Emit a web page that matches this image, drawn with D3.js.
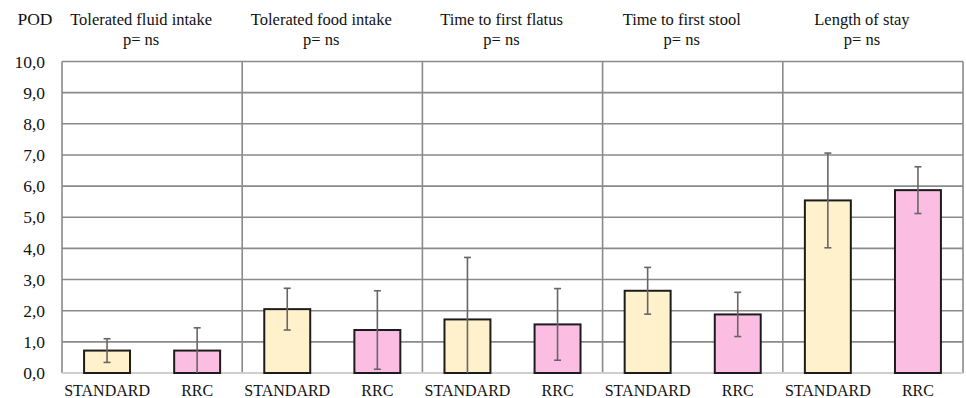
<!DOCTYPE html>
<html>
<head>
<meta charset="utf-8">
<script src="https://cdn.jsdelivr.net/npm/d3@7"></script>
<style>
  body { margin: 0; background: #fff; }
  svg text { font-family: "Liberation Serif", "DejaVu Serif", Times, serif; }
</style>
</head>
<body>
<svg class="chart"></svg>
<script>
// groups (outcomes) and arms
const outcomes = ['Tolerated fluid intake', 'Tolerated food intake', 'Time to first flatus', 'Time to first stool', 'Length of stay'];
const pLabels = ['p= ns', 'p= ns', 'p= ns', 'p= ns', 'p= ns'];
const arms = ['STANDARD', 'RRC'];

// mean POD and error (+/-) per outcome
const standardMean = [0.72, 2.05, 1.72, 2.64, 5.54];
const standardErr = [0.38, 0.67, 1.99, 0.75, 1.52];
const rrcMean = [0.72, 1.38, 1.56, 1.88, 5.87];
const rrcErr = [0.73, 1.26, 1.15, 0.71, 0.75];

const yTicks = [0, 1, 2, 3, 4, 5, 6, 7, 8, 9, 10];

const app = (function () {
  'use strict';

  const FONT = '"Liberation Serif", "DejaVu Serif", Times, serif';

  function init () {
    const W = 966;
    const H = 398;
    const margin = { top: 61.5, right: 3, bottom: 25, left: 62 };
    const w = W - margin.left - margin.right;
    const h = H - margin.top - margin.bottom;

    const svg = d3.select('.chart')
      .attr('width', W)
      .attr('height', H)
      .attr('font-family', FONT);

    const g = svg.append('g')
      .attr('transform', 'translate(' + margin.left + ',' + margin.top + ')');

    const x0 = d3.scaleBand()
      .domain(outcomes)
      .range([0, w]);

    const x1 = d3.scaleBand()
      .domain(arms)
      .range([0, x0.bandwidth()])
      .paddingInner(0.49)
      .paddingOuter(0.245);

    const y = d3.scaleLinear()
      .domain([0, 10])
      .range([h, 0]);

    const fmt = d3.formatLocale({ decimal: ',', thousands: '.', grouping: [3], currency: ['', ''] }).format('.1f');
    const color = { STANDARD: '#fff1cb', RRC: '#fcbde2' };

    const rows = outcomes.map(function (o, i) {
      return {
        outcome: o,
        values: [
          { arm: 'STANDARD', mean: standardMean[i], err: standardErr[i] },
          { arm: 'RRC', mean: rrcMean[i], err: rrcErr[i] }
        ]
      };
    });

    // horizontal grid
    g.append('g')
      .selectAll('line')
      .data(yTicks.filter(function (d) { return d > 0; }))
      .enter().append('line')
      .attr('x1', 0)
      .attr('x2', w)
      .attr('y1', function (d) { return y(d); })
      .attr('y2', function (d) { return y(d); })
      .attr('stroke', '#8a8a8a')
      .attr('stroke-width', 1.6);

    // vertical dividers (left edge, between groups, right edge)
    const dividers = outcomes.map(function (o) { return x0(o); }).concat([w]);
    g.append('g')
      .selectAll('line')
      .data(dividers)
      .enter().append('line')
      .attr('x1', function (d) { return d; })
      .attr('x2', function (d) { return d; })
      .attr('y1', y(10))
      .attr('y2', y(0))
      .attr('stroke', '#8a8a8a')
      .attr('stroke-width', 1.6);

    // bottom axis line
    g.append('line')
      .attr('x1', 0)
      .attr('x2', w)
      .attr('y1', y(0))
      .attr('y2', y(0))
      .attr('stroke', '#cfcfcf')
      .attr('stroke-width', 2);

    // y axis labels
    const yAxis = g.append('g')
      .call(d3.axisLeft(y).tickValues(yTicks).tickFormat(fmt).tickSize(0).tickPadding(17));
    yAxis.attr('font-family', FONT);
    yAxis.select('.domain').remove();
    yAxis.selectAll('text')
      .attr('font-size', 17.5)
      .attr('fill', '#111');

    const groups = g.selectAll('.grp')
      .data(rows)
      .enter().append('g')
      .attr('class', 'grp')
      .attr('transform', function (d) { return 'translate(' + x0(d.outcome) + ',0)'; });

    groups.selectAll('rect')
      .data(function (d) { return d.values; })
      .enter().append('rect')
      .attr('x', function (d) { return x1(d.arm); })
      .attr('width', x1.bandwidth())
      .attr('y', function (d) { return y(d.mean); })
      .attr('height', function (d) { return y(0) - y(d.mean); })
      .attr('fill', function (d) { return color[d.arm]; })
      .attr('stroke', '#1c1c1c')
      .attr('stroke-width', 2);

    // error bars
    const eb = groups.selectAll('.err')
      .data(function (d) { return d.values; })
      .enter().append('g')
      .attr('class', 'err')
      .attr('stroke', '#666')
      .attr('stroke-width', 1.6);

    const cx = function (d) { return x1(d.arm) + x1.bandwidth() / 2; };
    const lo = function (d) { return Math.max(0, d.mean - d.err); };
    const hi = function (d) { return d.mean + d.err; };

    eb.append('line')
      .attr('x1', cx).attr('x2', cx)
      .attr('y1', function (d) { return y(hi(d)); })
      .attr('y2', function (d) { return y(lo(d)); });
    eb.append('line')
      .attr('x1', function (d) { return cx(d) - 3.5; })
      .attr('x2', function (d) { return cx(d) + 3.5; })
      .attr('y1', function (d) { return y(hi(d)); })
      .attr('y2', function (d) { return y(hi(d)); });
    eb.filter(function (d) { return d.mean - d.err > 0.05; })
      .append('line')
      .attr('x1', function (d) { return cx(d) - 3.5; })
      .attr('x2', function (d) { return cx(d) + 3.5; })
      .attr('y1', function (d) { return y(lo(d)); })
      .attr('y2', function (d) { return y(lo(d)); });

    // arm labels under bars
    groups.selectAll('.arm')
      .data(function (d) { return d.values; })
      .enter().append('text')
      .attr('class', 'arm')
      .attr('x', cx)
      .attr('y', h + 23)
      .attr('text-anchor', 'middle')
      .attr('font-size', 16)
      .attr('fill', '#111')
      .text(function (d) { return d.arm; });

    // group titles
    groups.append('text')
      .attr('x', x0.bandwidth() / 2 - 11)
      .attr('y', 25 - margin.top)
      .attr('text-anchor', 'middle')
      .attr('font-size', 16.5)
      .attr('fill', '#111')
      .text(function (d) { return d.outcome; });

    groups.append('text')
      .attr('x', x0.bandwidth() / 2 - 11)
      .attr('y', 45 - margin.top)
      .attr('text-anchor', 'middle')
      .attr('font-size', 16.5)
      .attr('fill', '#111')
      .text(function (d, i) { return pLabels[i]; });

    svg.append('text')
      .attr('x', 35)
      .attr('y', 25)
      .attr('text-anchor', 'middle')
      .attr('font-size', 17.5)
      .attr('fill', '#111')
      .text('POD');
  }

  return { init: init };
}());

window.addEventListener('load', app.init);
</script>
</body>
</html>
